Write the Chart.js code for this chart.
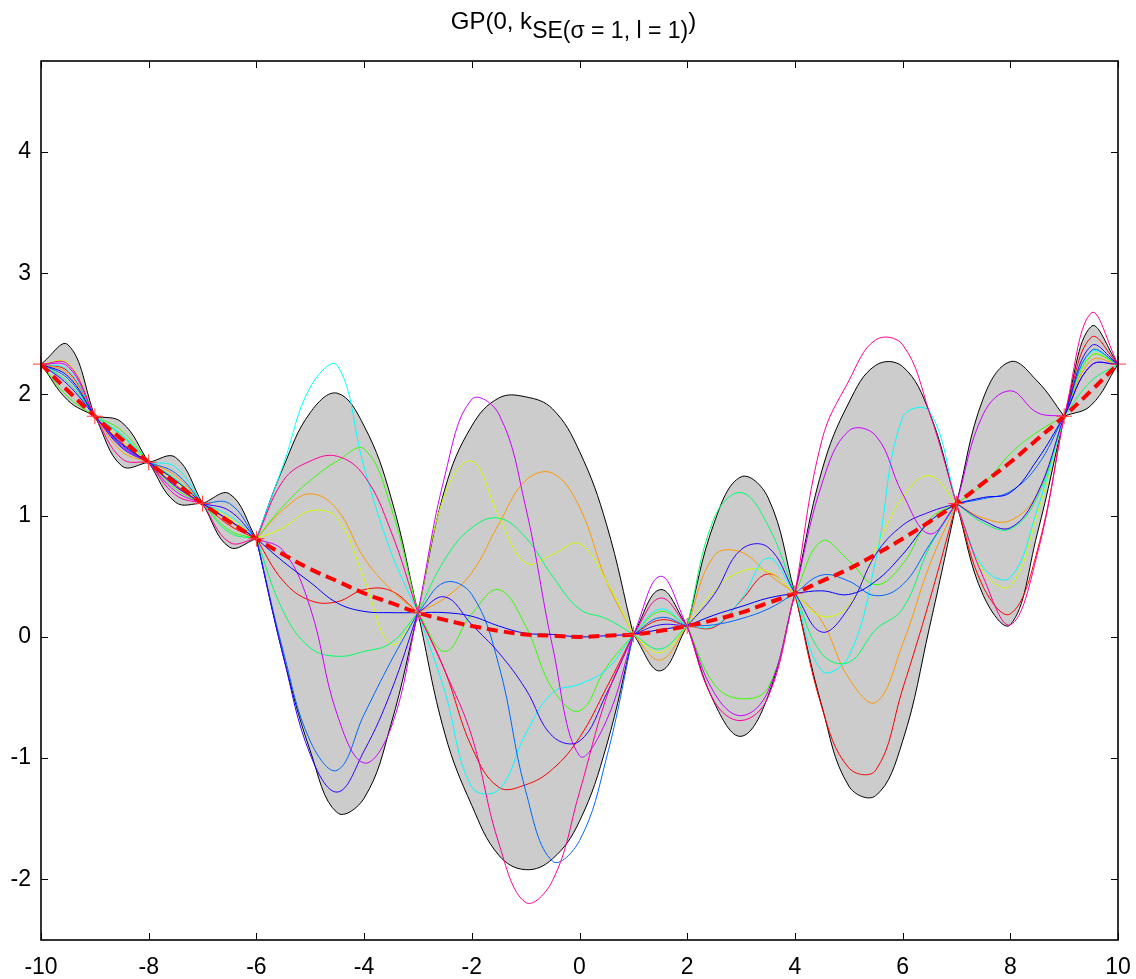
<!DOCTYPE html>
<html>
<head>
<meta charset="utf-8">
<script src="https://cdn.jsdelivr.net/npm/chart.js@4.4.0/dist/chart.umd.min.js"></script>
<style>
  html, body { margin: 0; padding: 0; background: #fff; }
  #wrap { position: relative; width: 1136px; height: 979px; }
  canvas { position: absolute; left: 0; top: 0; }
  #title {
    position: absolute; left: 35px; width: 1077px; top: 7px;
    text-align: center; white-space: nowrap; color: #000;
    font-family: "Liberation Sans", Arial, sans-serif; font-size: 24px;
  }
  #title sub { font-size: 23px; vertical-align: -9px; line-height: 0; }
</style>
</head>
<body>
<div id="wrap">
  <canvas id="gp" width="1136" height="979"></canvas>
  <div id="title">GP(0, k<sub>SE(σ = 1, l = 1)</sub>)</div>
</div>
<script>
// Evaluation grid (step 0.5)
const gridX = [-10,-9.5,-9,-8.5,-8,-7.5,-7,-6.5,-6,-5.5,-5,-4.5,-4,-3.5,-3,-2.5,-2,-1.5,-1,-0.5,0,0.5,1,1.5,2,2.5,3,3.5,4,4.5,5,5.5,6,6.5,7,7.5,8,8.5,9,9.5,10];

// Observed training points
const trainX = [-10,-9,-8,-7,-6,-3,1,2,4,7,9,10];
const trainY = [2.25,1.82,1.44,1.10,0.81,0.20,0.02,0.09,0.36,1.10,1.82,2.25];

// Underlying function (dashed red)
const trueY = [2.25,2.03,1.82,1.63,1.44,1.27,1.10,0.95,0.81,0.68,0.56,0.46,0.36,0.28,0.20,0.14,0.09,0.05,0.02,0.01,0.00,0.01,0.02,0.05,0.09,0.14,0.20,0.28,0.36,0.46,0.56,0.68,0.81,0.95,1.10,1.27,1.44,1.63,1.82,2.03,2.25];

// Posterior mean and confidence band
const postMean  = [2.25,2.15,1.82,1.59,1.44,1.29,1.10,0.96,0.81,0.62,0.45,0.28,0.21,0.20,0.20,0.20,0.17,0.09,0.03,0.02,0.00,0.01,0.02,0.06,0.09,0.18,0.25,0.32,0.36,0.38,0.35,0.46,0.68,0.95,1.10,1.15,1.19,1.46,1.82,2.24,2.25];
const bandUpper = [2.25,2.41,1.82,1.77,1.44,1.48,1.10,1.18,0.81,1.40,1.85,2.01,1.74,1.15,0.20,1.22,1.74,1.97,1.98,1.88,1.53,0.93,0.02,0.39,0.09,0.94,1.32,1.15,0.36,1.37,1.93,2.24,2.23,1.85,1.10,1.97,2.27,2.11,1.82,2.56,2.25];
const bandLower = [2.25,1.95,1.82,1.41,1.44,1.11,1.10,0.74,0.81,-0.16,-0.94,-1.45,-1.33,-0.72,0.20,-0.80,-1.39,-1.80,-1.92,-1.83,-1.52,-0.90,0.02,-0.28,0.09,-0.54,-0.82,-0.49,0.36,-0.57,-1.23,-1.31,-0.86,0.08,1.10,0.34,0.10,0.85,1.82,1.91,2.25];

// Posterior samples
const sample1  = [2.25,2.19,1.82,1.60,1.44,1.25,1.10,0.92,0.81,0.46,0.30,0.29,0.39,0.38,0.20,-0.28,-0.91,-1.24,-1.22,-1.09,-0.83,-0.42,0.02,0.14,0.09,0.08,0.30,0.52,0.36,-0.58,-1.08,-1.10,-0.43,0.30,1.10,0.41,0.19,0.71,1.82,2.47,2.25];
const sample2  = [2.25,2.17,1.82,1.53,1.44,1.33,1.10,0.95,0.81,1.05,1.18,1.05,0.65,0.39,0.20,0.32,0.53,0.93,1.29,1.35,1.07,0.46,0.02,-0.19,0.09,0.67,0.70,0.52,0.36,0.13,-0.34,-0.54,-0.06,0.59,1.10,0.98,0.96,1.18,1.82,2.28,2.25];
const sample3  = [2.25,2.26,1.82,1.62,1.44,1.28,1.10,0.98,0.81,0.90,1.04,0.98,0.48,-0.06,0.20,1.18,1.45,1.00,0.61,0.68,0.77,0.46,0.02,-0.13,0.09,0.38,0.54,0.54,0.36,0.17,0.26,0.72,1.15,1.33,1.10,0.54,0.42,1.01,1.82,2.32,2.25];
const sample4  = [2.25,1.98,1.82,1.70,1.44,1.22,1.10,0.88,0.81,1.08,1.29,1.45,1.55,1.07,0.20,-0.12,0.19,0.39,0.09,-0.43,-0.61,-0.25,0.02,0.21,0.09,-0.39,-0.51,-0.42,0.36,0.79,0.63,0.43,0.60,0.97,1.10,1.26,1.51,1.69,1.82,2.32,2.25];
const sample5  = [2.25,2.10,1.82,1.66,1.44,1.30,1.10,0.86,0.81,0.21,-0.09,-0.16,-0.12,-0.05,0.20,0.64,0.90,0.98,0.82,0.50,0.23,0.15,0.02,-0.10,0.09,0.98,1.19,0.92,0.36,-0.14,-0.21,0.06,0.23,0.74,1.10,0.94,0.89,1.15,1.82,2.11,2.25];
const sample6  = [2.25,2.20,1.82,1.67,1.44,1.40,1.10,1.00,0.81,1.42,2.06,2.24,1.40,0.70,0.20,-0.45,-1.24,-1.26,-0.80,-0.46,-0.39,-0.27,0.02,0.23,0.09,0.09,0.31,0.65,0.36,-0.28,-0.16,0.63,1.81,1.86,1.10,0.57,0.49,1.05,1.82,2.35,2.25];
const sample7  = [2.25,2.13,1.82,1.58,1.44,1.35,1.10,1.10,0.81,-0.12,-0.86,-1.10,-0.64,-0.20,0.20,0.45,0.35,-0.23,-1.27,-1.85,-1.68,-1.00,0.02,0.16,0.09,0.10,0.15,0.23,0.36,0.51,0.46,0.34,0.43,0.76,1.10,1.14,1.20,1.41,1.82,2.36,2.25];
const sample8  = [2.25,2.08,1.82,1.56,1.44,1.24,1.10,1.04,0.81,-0.16,-0.97,-1.28,-0.94,-0.45,0.20,0.33,0.10,-0.13,-0.43,-0.82,-0.86,-0.47,0.02,0.10,0.09,0.35,0.72,0.74,0.36,0.04,0.24,0.68,0.92,1.03,1.10,0.96,0.90,1.18,1.82,2.40,2.25];
const sample9  = [2.25,2.23,1.82,1.57,1.44,1.20,1.10,0.96,0.81,0.71,0.24,-0.64,-1.04,-0.75,0.20,1.33,1.96,1.84,1.07,-0.08,-0.98,-0.69,0.02,0.50,0.09,-0.46,-0.65,-0.45,0.36,1.26,1.70,1.66,1.18,0.85,1.10,1.84,2.03,1.85,1.82,2.24,2.25];
const sample10 = [2.25,2.25,1.82,1.47,1.44,1.17,1.10,0.78,0.81,1.29,1.45,1.49,1.33,0.87,0.20,-0.28,-0.82,-1.70,-2.19,-2.01,-1.28,-0.50,0.02,0.32,0.09,-0.53,-0.69,-0.50,0.36,1.62,2.11,2.45,2.41,1.85,1.10,0.49,0.10,0.68,1.82,2.67,2.25];

const samples = [sample1,sample2,sample3,sample4,sample5,sample6,sample7,sample8,sample9,sample10];
const sampleColors = ['#ff0000','#ff9900','#ccff00','#33ff00','#00ff66','#00ffff','#0066ff','#3300ff','#cc00ff','#ff0099'];

// Axis ticks
const xTicks = [-10,-8,-6,-4,-2,0,2,4,6,8,10];
const yTicks = [-2,-1,0,1,2,3,4];

// Break each curve at the interior training points so it kinks there
const innerNodes = new Set(trainX.slice(1, -1));
function piecewise(values) {
  const pts = [];
  gridX.forEach((x, i) => {
    pts.push({ x, y: values[i] });
    if (innerNodes.has(x)) {
      pts.push({ x, y: null });
      pts.push({ x, y: values[i] });
    }
  });
  return pts;
}

const lineBase = { pointRadius: 0, fill: false, tension: 0.4, spanGaps: false };
const datasets = [];
datasets.push({ ...lineBase, data: piecewise(bandUpper), borderColor: '#000', borderWidth: 1,
                backgroundColor: '#cccccc', fill: 1, order: 100 });
datasets.push({ ...lineBase, data: piecewise(bandLower), borderColor: '#000', borderWidth: 1, order: 99 });
samples.forEach((s, k) => {
  datasets.push({ ...lineBase, data: piecewise(s), borderColor: sampleColors[k], borderWidth: 1, order: 60 - k });
});
datasets.push({ ...lineBase, data: piecewise(postMean), borderColor: '#0000ff', borderWidth: 1, order: 40 });
datasets.push({ ...lineBase, data: gridX.map((x, i) => ({ x, y: trueY[i] })), borderColor: '#ff0000',
                borderWidth: 4, borderDash: [11, 6], order: 30 });
datasets.push({ data: trainX.map((x, i) => ({ x, y: trainY[i] })), showLine: false, pointStyle: 'cross',
                pointRadius: 8, pointBorderColor: '#ff3b3b', pointBorderWidth: 1, borderColor: '#ff3b3b',
                order: 20, clip: false });

// Box with inward ticks on all four sides
const frame = {
  id: 'frame',
  afterDatasetsDraw(chart) {
    const { ctx, chartArea: a, scales: { x, y } } = chart;
    ctx.save();
    ctx.strokeStyle = '#000';
    ctx.lineWidth = 1.6;
    ctx.strokeRect(a.left, a.top, a.right - a.left, a.bottom - a.top);
    ctx.lineWidth = 1;
    ctx.beginPath();
    const len = 7;
    xTicks.forEach(v => {
      const px = Math.round(x.getPixelForValue(v)) + 0.5;
      ctx.moveTo(px, a.bottom); ctx.lineTo(px, a.bottom - len);
      ctx.moveTo(px, a.top); ctx.lineTo(px, a.top + len);
    });
    yTicks.forEach(v => {
      const py = Math.round(y.getPixelForValue(v)) + 0.5;
      ctx.moveTo(a.left, py); ctx.lineTo(a.left + len, py);
      ctx.moveTo(a.right, py); ctx.lineTo(a.right - len, py);
    });
    ctx.stroke();
    ctx.restore();
  }
};

const tickFont = { family: '"Liberation Sans", Arial, sans-serif', size: 23 };

new Chart(document.getElementById('gp'), {
  type: 'line',
  data: { datasets },
  options: {
    responsive: false,
    animation: false,
    devicePixelRatio: 1,
    layout: { padding: { top: 61, right: 18, left: 0, bottom: 0 } },
    plugins: { legend: { display: false }, tooltip: { enabled: false }, title: { display: false } },
    scales: {
      x: {
        type: 'linear', min: -10, max: 10,
        grid: { display: false, drawTicks: false }, border: { display: false },
        afterBuildTicks: sc => { sc.ticks = xTicks.map(v => ({ value: v })); },
        afterFit: sc => { sc.height = 39; sc.paddingLeft = 0; sc.paddingRight = 0; },
        ticks: { color: '#000', font: tickFont, padding: 14, maxRotation: 0, autoSkip: false,
                 callback: v => String(v) }
      },
      y: {
        type: 'linear', min: -2.5, max: 4.75,
        grid: { display: false, drawTicks: false }, border: { display: false },
        afterBuildTicks: sc => { sc.ticks = yTicks.map(v => ({ value: v })); },
        afterFit: sc => { sc.width = 41; sc.paddingTop = 0; sc.paddingBottom = 0; },
        ticks: { color: '#000', font: tickFont, padding: 10, autoSkip: false,
                 callback: v => String(v) }
      }
    }
  },
  plugins: [frame]
});
</script>
</body>
</html>
